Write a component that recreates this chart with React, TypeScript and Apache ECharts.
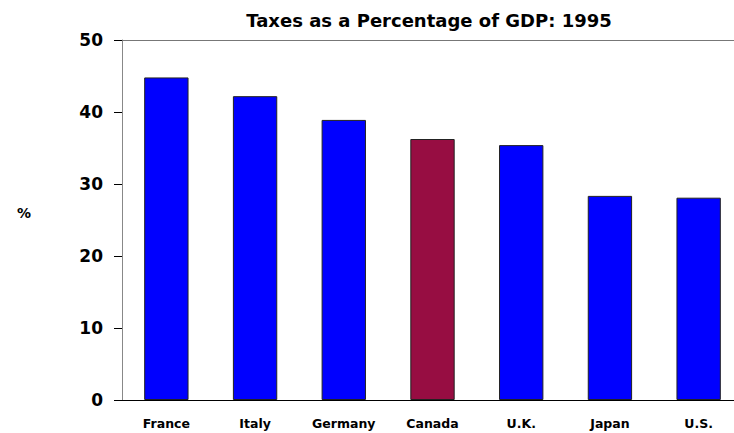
import React, { useEffect, useRef } from "react";
import * as echarts from "echarts";

const categories = ["France", "Italy", "Germany", "Canada", "U.K.", "Japan", "U.S."];
const taxValues = [44.8, 42.2, 38.9, 36.25, 35.4, 28.35, 28.1];
const highlightCategory = "Canada";
const yTicks = [0, 10, 20, 30, 40, 50];
const titleText = "Taxes as a Percentage of GDP: 1995";
const unitLabel = "%";

const FONT = "'DejaVu Sans', sans-serif";

export default function App() {
  const ref = useRef<HTMLDivElement>(null);
  useEffect(() => {
    if (!ref.current) return;
    const chart = echarts.init(ref.current, null, { renderer: "svg" });
    chart.setOption({
      animation: false,
      backgroundColor: "#ffffff",
      title: [
        {
          text: titleText,
          left: 424,
          top: 6,
          textAlign: "center",
          textStyle: { fontFamily: FONT, fontWeight: "bold", fontSize: 18, color: "#000" },
        },
        {
          text: unitLabel,
          left: 12,
          top: 201,
          textStyle: { fontFamily: FONT, fontWeight: "bold", fontSize: 14, color: "#000" },
        },
      ],
      grid: {
        left: 122,
        top: 40,
        width: 621,
        height: 360,
        show: false,
      },
      xAxis: [
        {
          type: "category",
          data: categories,
          axisLine: { show: true, lineStyle: { color: "#000", width: 1 } },
          axisTick: { show: false },
          axisLabel: {
            fontFamily: FONT,
            fontWeight: "bold",
            fontSize: 12.5,
            color: "#000",
            margin: 17,
          },
        },
        {
          type: "category",
          position: "top",
          data: categories,
          axisLine: { show: true, lineStyle: { color: "#777", width: 1 } },
          axisTick: { show: false },
          axisLabel: { show: false },
        },
      ],
      yAxis: {
        type: "value",
        min: yTicks[0],
        max: yTicks[yTicks.length - 1],
        interval: 10,
        axisLine: { show: true, lineStyle: { color: "#888", width: 1 } },
        axisTick: { show: true, length: 8, lineStyle: { color: "#000" } },
        splitLine: { show: false },
        axisLabel: {
          fontFamily: FONT,
          fontWeight: "bold",
          fontSize: 17,
          color: "#000",
          margin: 19,
        },
      },
      series: [
        {
          type: "bar",
          barWidth: "50%",
          xAxisIndex: 0,
          data: taxValues.map((v, i) => ({
            value: v,
            itemStyle: {
              color: categories[i] === highlightCategory ? "#970d42" : "#0000ff",
              borderColor: "#222",
              borderWidth: 1,
            },
          })),
        },
      ],
    });
    return () => chart.dispose();
  }, []);
  return (
    <div
      style={{
        position: "fixed",
        left: 0,
        top: 0,
        width: 734,
        height: 433,
        overflow: "hidden",
        background: "#fff",
      }}
    >
      <div ref={ref} style={{ width: 746, height: 433 }} />
    </div>
  );
}
